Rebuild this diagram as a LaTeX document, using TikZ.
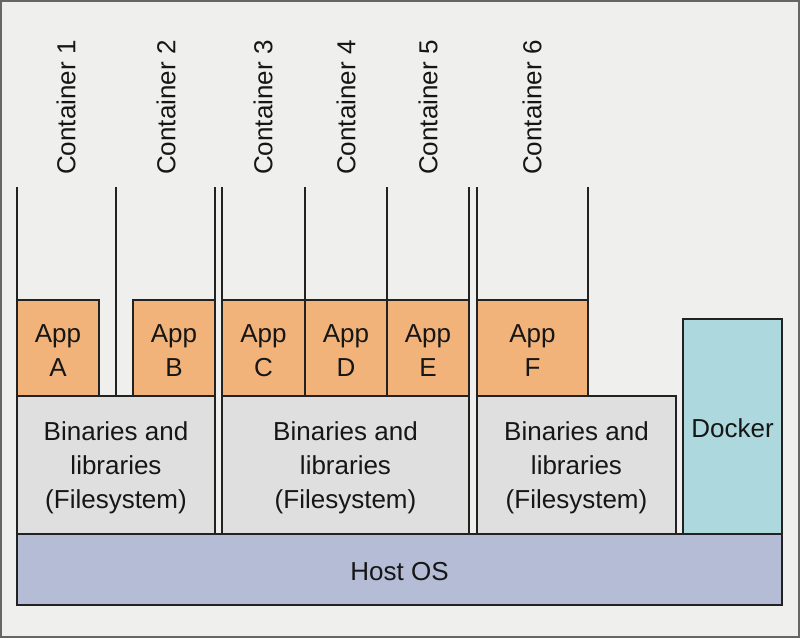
\documentclass[tikz,border=0pt]{standalone}
\usepackage{fontspec}
\setmainfont{Liberation Sans}
\usepackage{xcolor}
\usepackage{tikz}

\definecolor{bgcol}{HTML}{EFEFED}
\definecolor{appcol}{HTML}{F1B37A}
\definecolor{bincol}{HTML}{DFDFDF}
\definecolor{dockcol}{HTML}{ADD8DE}
\definecolor{hostcol}{HTML}{B5BCD6}
\definecolor{linecol}{HTML}{222222}
\definecolor{textcol}{HTML}{161616}

\begin{document}
\begin{tikzpicture}[x=1pt, y=-1pt,
        layer/.style={draw=linecol, line width=2pt, outer sep=0pt, inner sep=0pt,
            anchor=north west, align=center, text=textcol,
            font=\fontsize{26}{34}\selectfont},
        appbox/.style={layer, fill=appcol, minimum height=96, text height=56pt, text depth=0pt},
        binbox/.style={layer, fill=bincol, minimum height=138, text depth=0pt},
        wall/.style={draw=linecol, line width=2pt},
        contlabel/.style={rotate=90, anchor=west, inner sep=0pt, xshift=12pt,
            text=textcol, font=\fontsize{26}{34}\selectfont}]
        \useasboundingbox (0,0) rectangle (800,638);
        \draw[draw=gray!80!black, line width=2pt, fill=bgcol] (1,1) rectangle (799,637);
        \coordinate (top) at (0,187);

        % host and docker
        \node[layer, fill=hostcol, minimum width=765, minimum height=71,
            execute at begin node={\rule{0pt}{23pt}}] (host) at (17,534) {Host OS};
        \node[layer, fill=dockcol, minimum width=99, minimum height=215,
            execute at begin node={\rule{0pt}{23pt}}] (docker) at (683,319) {Docker};

        % binaries and libraries
        \node[binbox, minimum width=198] (bin1) at (17,396) {Binaries and\\libraries\\(Filesystem)};
        \node[binbox, minimum width=247] (bin2) at (222,396) {Binaries and\\libraries\\(Filesystem)};
        \node[binbox, minimum width=199] (bin3) at (477,396) {Binaries and\\libraries\\(Filesystem)};

        % apps
        \node[appbox, minimum width=82] (appA) at (17,300) {App\\A};
        \node[appbox, minimum width=82] (appB) at (133,300) {App\\B};
        \node[appbox, minimum width=83] (appC) at (222,300) {App\\C};
        \node[appbox, minimum width=82] (appD) at (305,300) {App\\D};
        \node[appbox, minimum width=82] (appE) at (387,300) {App\\E};
        \node[appbox, minimum width=111] (appF) at (477,300) {App\\F};

        % container walls
        \draw[wall] (appA.north west) -- (appA.north west |- top);
        \draw[wall] (bin1.north) -- (bin1.north |- top);
        \draw[wall] (bin1.north east) -- (bin1.north east |- top);
        \draw[wall] (appC.north west) -- (appC.north west |- top);
        \draw[wall] (appC.north east) -- (appC.north east |- top);
        \draw[wall] (appD.north east) -- (appD.north east |- top);
        \draw[wall] (appE.north east) -- (appE.north east |- top);
        \draw[wall] (appF.north west) -- (appF.north west |- top);
        \draw[wall] (appF.north east) -- (appF.north east |- top);

        % container labels
        \node[contlabel] (c1) at (66,187) {Container 1};
        \node[contlabel] (c2) at (166,187) {Container 2};
        \node[contlabel] (c3) at (263,187) {Container 3};
        \node[contlabel] (c4) at (346,187) {Container 4};
        \node[contlabel] (c5) at (428,187) {Container 5};
        \node[contlabel] (c6) at (532,187) {Container 6};
    \end{tikzpicture}
\end{document}
